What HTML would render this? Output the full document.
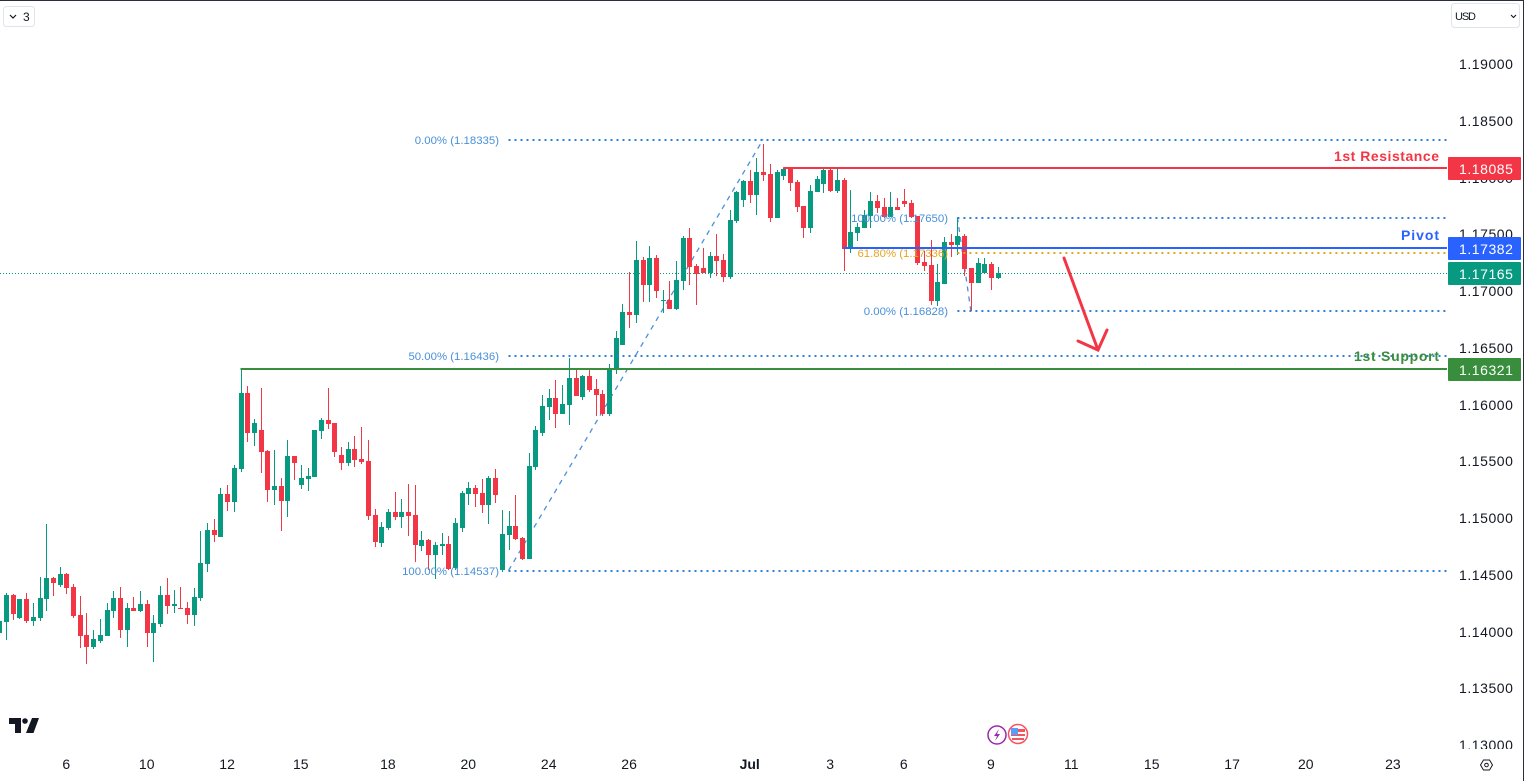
<!DOCTYPE html>
<html lang="en">
<head>
<meta charset="utf-8">
<title>EURUSD chart</title>
<style>
html,body{margin:0;padding:0;background:#fff;width:1524px;height:781px;overflow:hidden}
svg{display:block;font-family:"Liberation Sans",sans-serif}
</style>
</head>
<body>
<svg id="chart" width="1524" height="781" viewBox="0 0 1524 781" xmlns="http://www.w3.org/2000/svg">
  <rect x="0" y="0" width="1524" height="781" fill="#ffffff"/>
  <g id="under"></g>
  <g id="candles"></g>
  <g id="over"></g>
  <g id="priceAxis" font-size="14" fill="#131722" letter-spacing="0.55"></g>
  <rect x="0" y="749" width="1524" height="32" fill="#ffffff"/>
  <g id="timeAxis" font-size="14" fill="#131722" text-anchor="middle"></g>
  <g id="tags" font-size="14" fill="#ffffff" letter-spacing="0.55"></g>

  <g fill="none" stroke="#f23645" stroke-width="3" stroke-linecap="round">
    <path d="M1064 258L1098 350"/>
    <path d="M1078 341L1098 350L1107 330"/>
  </g>

  <text x="1439" y="161" text-anchor="end" font-size="14" font-weight="bold" fill="#f23645" textLength="105">1st Resistance</text>
  <text x="1439" y="240" text-anchor="end" font-size="14" font-weight="bold" fill="#2962ff" textLength="38">Pivot</text>
  <text x="1439" y="361" text-anchor="end" font-size="14" font-weight="bold" fill="#388e3c" textLength="85">1st Support</text>

  <g>
    <rect x="3.5" y="6.5" width="31" height="20" rx="3" fill="#fff" stroke="#e0e3eb"/>
    <path d="M10 15L13 18L16 15" fill="none" stroke="#131722" stroke-width="1.2"/>
    <text x="23" y="21" font-size="12" fill="#131722">3</text>
  </g>
  <g>
    <rect x="1451.5" y="3.5" width="68" height="24" rx="3" fill="#fff" stroke="#e0e3eb"/>
    <text x="1455" y="20" font-size="11" fill="#131722" textLength="21">USD</text>
    <path d="M1511 15L1513.5 17.5L1516 15" fill="none" stroke="#131722" stroke-width="1.1"/>
  </g>

  <g fill="#131722">
    <path d="M9 718H21V733H15V724H9Z"/>
    <circle cx="25" cy="721" r="2.8"/>
    <path d="M32 718H39L33.500 733H26Z"/>
  </g>

  <g>
    <circle cx="997" cy="735" r="9" fill="#fff" stroke="#9c27b0" stroke-width="1.5"/>
    <path d="M999 729L994 736H997L995 741L1000 734H997Z" fill="#9c27b0"/>
  </g>
  <g>
    <circle cx="1018" cy="734" r="9.500" fill="#fff" stroke="#f7525f" stroke-width="1.500"/>
    <rect x="1011" y="729" width="14" height="3" fill="#f7525f"/>
    <rect x="1011" y="734" width="14" height="2" fill="#f7525f"/>
    <rect x="1012" y="738" width="12" height="2" fill="#f7525f"/>
    <rect x="1011" y="728" width="7" height="7" fill="#5b9cf6"/>
  </g>
  <g fill="none" stroke="#131722" stroke-width="1">
    <path d="M1480.500 765L1483.500 760H1489.500L1492.500 765L1489.500 770H1483.500Z"/>
    <circle cx="1486.500" cy="765" r="1.800"/>
  </g>

  <rect x="0" y="0" width="1524" height="1" fill="#2a2e39"/>
  <rect x="1523" y="0" width="1" height="781" fill="#2a2e39"/>
</svg>

<script>
// Prices are in points (1 point = 0.00001)
const opens = [
113987,114084,114322,114119,114287,114093,114119,114287,114472,114410,
114507,114393,114146,113970,113864,113917,113961,114181,114296,114014,
114208,114181,114243,113987,114067,114322,114225,114208,114208,114146,
114296,114595,114895,114833,115212,115141,115432,116102,115749,115776,
115591,115247,115282,115150,115547,115291,115344,115362,115767,115864,
115838,115556,115485,115608,115520,115503,115027,114780,114912,115053,
115009,115053,115027,114754,114807,114675,114754,114772,114560,114912,
115212,115265,115221,115115,115353,114542,114851,114930,114825,114639,
115450,115749,115978,116058,115917,115996,116234,116066,116251,116137,
116093,115917,116313,116525,116815,116789,117273,117053,117291,116912,
116921,116842,117088,117468,117221,117203,117159,117309,117273,117124,
117617,117802,117969,117846,118049,118031,117643,118014,118084,117961,
117749,117555,117872,117943,118066,117881,117978,117370,117511,117555,
117661,117793,117740,117652,117740,117793,117776,117661,117256,117229,
116912,117062,117432,117406,117485,117203,117071,117159,117238,117115];
const highs = [
114128,114340,114331,114287,114340,114252,114481,114948,114481,114569,
114516,114419,114313,114163,114014,114110,114252,114357,114393,114252,
114304,114357,114278,114146,114401,114472,114366,114393,114260,114384,
114886,114956,114992,115265,115291,115467,116313,116163,115873,116146,
115600,115600,115353,115688,115547,115467,115441,115776,115882,116146,
115838,115626,115670,115723,115802,115688,115080,114965,115080,115230,
115168,115300,115291,114886,114816,114789,114868,114842,115000,115238,
115318,115291,115344,115370,115432,115071,115062,115203,114833,115573,
115811,116084,116137,116216,116172,116410,116322,116260,116322,116225,
116128,116357,116648,116886,117167,117441,117300,117396,117317,117009,
117088,117265,117485,117555,117238,117379,117344,117502,117326,117714,
117881,117978,118066,118172,118295,118119,118066,118084,118084,117978,
117749,117934,118014,118084,118084,118084,117996,117890,117599,117714,
117872,117846,117820,117872,117820,117899,117802,117661,117353,117450,
117238,117476,117502,117643,117502,117203,117291,117291,117256,117212];
const lows = [
113926,113926,114102,114110,114075,114049,114093,114181,114313,114393,
114331,114119,113855,113714,113846,113899,113961,114119,113943,113864,
114181,114172,113864,113732,114040,114155,114163,114199,114067,114049,
114269,114525,114789,114833,115062,115053,115406,115670,115635,115397,
115141,115115,114886,115009,115335,115256,115238,115362,115696,115785,
115538,115423,115459,115450,115476,114983,114745,114745,114895,114983,
114912,114842,114613,114710,114542,114463,114675,114542,114542,114877,
115115,115097,115045,114948,115133,114525,114719,114807,114630,114639,
115423,115723,115864,115793,115917,115820,116075,116040,116110,115899,
115899,115899,116269,116525,116674,116719,116903,116903,116939,116807,
116842,116833,117009,117053,116877,117159,117115,117132,117080,117106,
117599,117740,117775,117670,117969,117608,117643,117978,117881,117696,
117467,117511,117872,117864,117872,117864,117177,117335,117441,117555,
117555,117687,117643,117652,117714,117740,117643,117229,117177,116877,
116868,117062,117300,117317,117132,116824,117071,117159,117009,117106];
const closes = [
114093,114322,114155,114287,114093,114128,114296,114472,114428,114507,
114384,114137,113961,113864,113934,113970,114190,114296,114014,114208,
114181,114243,113987,114075,114322,114225,114243,114199,114146,114304,
114604,114895,114851,115212,115141,115441,116102,115749,115838,115582,
115247,115282,115150,115547,115485,115353,115370,115776,115864,115829,
115582,115485,115608,115511,115494,115018,114789,114921,115053,115009,
115053,115018,114763,114807,114675,114763,114772,114551,114956,115221,
115265,115212,115115,115353,115203,114860,114930,114816,114639,115459,
115776,115987,116058,115917,116005,116234,116075,116251,116128,116084,
115917,116313,116586,116815,116789,117273,117053,117291,117000,116921,
116842,117097,117468,117212,117150,117159,117309,117265,117124,117626,
117872,117969,117846,118049,118022,117643,118049,118075,117952,117740,
117555,117881,117987,118066,117881,117978,117370,117520,117564,117670,
117793,117731,117652,117740,117714,117767,117652,117247,117221,116912,
117080,117432,117406,117485,117194,117071,117247,117238,117115,117159];

const priceTicks = [1.19,1.185,1.18,1.175,1.17,1.165,1.16,1.155,1.15,1.145,1.14,1.135,1.13];
const timeLabels = ['6','10','12','15','18','20','24','26','Jul','3','6','9','11','15','17','20','23'];
const timeLabelBars = [10,22,34,45,58,70,82,94,112,124,135,148,160,172,184,195,208];

const lastPrice = 1.17165;
const resistance = 1.18085;
const pivot = 1.17382;
const support = 1.16321;
const fibLongLevels = [1.18335,1.16436,1.14537];
const fibLongLabels = ['0.00% (1.18335)','50.00% (1.16436)','100.00% (1.14537)'];
const fibShortLevels = [1.1765,1.17336,1.16828];
const fibShortLabels = ['100.00% (1.17650)','61.80% (1.17336)','0.00% (1.16828)'];
const fibLongBars = [76,114];
const fibShortBars = [143,145];
const resistanceBar = 117;
const pivotBar = 126;
const supportBar = 36;

const NS = 'http://www.w3.org/2000/svg';
const RIGHT = 1447;
const UP = '#089981', DOWN = '#f23645', FIB = '#4a90d9', FIBDOT = '#2f80dc', ORANGE = '#e6a520';
function yScale(p){ return 64 + (1.19 - p) * 11350; }
function xScale(i){ return -0.7 + 6.7 * i; }
function make(tag, attrs, parent){
  const el = document.createElementNS(NS, tag);
  for (const k in attrs) el.setAttribute(k, attrs[k]);
  parent.appendChild(el);
  return el;
}
const under = document.getElementById('under');
const over = document.getElementById('over');
const candleG = document.getElementById('candles');

// last price dotted line
const lastY = Math.ceil(yScale(lastPrice)) + 0.5;
const lastLine = make('line', {x1:0, x2:RIGHT, y1:lastY, y2:lastY, stroke:UP, 'stroke-width':1, 'stroke-dasharray':'1 2'}, under);



// fib trend lines
const trendLong = make('line', {x1:xScale(fibLongBars[0]), y1:yScale(fibLongLevels[2]), x2:xScale(fibLongBars[1]), y2:yScale(fibLongLevels[0]), stroke:FIB, 'stroke-width':1.3, 'stroke-dasharray':'5 5'}, under);


const trendShort = make('line', {x1:xScale(fibShortBars[0]), y1:yScale(fibShortLevels[0]), x2:xScale(fibShortBars[1]), y2:yScale(fibShortLevels[2]), stroke:FIB, 'stroke-width':1.3, 'stroke-dasharray':'5 5'}, under);



// candles
opens.forEach(function(o, i){
  const c = closes[i] / 1e5, op = o / 1e5, h = highs[i] / 1e5, l = lows[i] / 1e5;
  const col = c >= op ? UP : DOWN;
  const xc = Math.round(xScale(i));
  const g = make('g', {fill:col}, candleG);
  
  
  const yH = Math.round(yScale(h)), yL = Math.round(yScale(l));
  const wick = make('rect', {x:xc, y:yH, width:1, height:Math.max(1, yL - yH)}, g);
  
  
  const yT = Math.round(yScale(Math.max(op, c))), yB = Math.round(yScale(Math.min(op, c)));
  const body = make('rect', {x:xc - 2, y:yT, width:5, height:Math.max(1, yB - yT)}, g);
  
  
});

// fib levels
fibLongLevels.forEach(function(p, i){
  const y = Math.ceil(yScale(p));
  const ln = make('line', {x1:xScale(fibLongBars[0]), x2:RIGHT, y1:y, y2:y, stroke:FIBDOT, 'stroke-width':2, 'stroke-dasharray':'2 4'}, over);
  
  
  const t = make('text', {x:499, y:y + 4, 'text-anchor':'end', 'font-size':11.4, fill:FIB}, over);
  t.textContent = fibLongLabels[i];
  
  
});
fibShortLevels.forEach(function(p, i){
  const y = Math.ceil(yScale(p));
  const lineCol = i === 1 ? ORANGE : FIBDOT;
  const textCol = i === 1 ? ORANGE : FIB;
  const ln = make('line', {x1:xScale(fibShortBars[0]), x2:RIGHT, y1:y, y2:y, stroke:lineCol, 'stroke-width':2, 'stroke-dasharray':'2 4'}, over);
  
  
  const t = make('text', {x:948, y:y + 4, 'text-anchor':'end', 'font-size':11.4, fill:textCol}, over);
  t.textContent = fibShortLabels[i];
  
  
});

// solid key levels
const resistanceLine = make('line', {x1:xScale(resistanceBar), x2:RIGHT, y1:Math.round(yScale(resistance)), y2:Math.round(yScale(resistance)), stroke:'#f23645', 'stroke-width':2}, over);


const pivotLine = make('line', {x1:xScale(pivotBar), x2:RIGHT, y1:Math.round(yScale(pivot)), y2:Math.round(yScale(pivot)), stroke:'#2962ff', 'stroke-width':2}, over);


const supportLine = make('line', {x1:xScale(supportBar), x2:RIGHT, y1:Math.round(yScale(support)) + 1, y2:Math.round(yScale(support)) + 1, stroke:'#388e3c', 'stroke-width':2}, over);



// price axis
const priceAxis = document.getElementById('priceAxis');
priceTicks.forEach(function(p){
  const t = make('text', {x:1459, y:Math.round(yScale(p)) + 5}, priceAxis);
  t.textContent = p.toFixed(5);
  
  
});

// time axis
const timeAxis = document.getElementById('timeAxis');
timeLabels.forEach(function(s, i){
  const t = make('text', {x:xScale(timeLabelBars[i]), y:769}, timeAxis);
  if (s === 'Jul') t.setAttribute('font-weight', 'bold');
  t.textContent = s;
  
  
});

// price tags
const tags = document.getElementById('tags');
const tagPrices = [resistance, pivot, lastPrice, support];
const tagColors = ['#f23645', '#2962ff', '#089981', '#388e3c'];
tagPrices.forEach(function(p, i){
  const y = Math.ceil(yScale(p));
  const r = make('rect', {x:1448, y:y - 11, width:73, height:23, rx:1, fill:tagColors[i]}, tags);
  
  
  const t = make('text', {x:1459, y:y + 6}, tags);
  t.textContent = p.toFixed(5);
  
  
});
</script>
</body>
</html>
